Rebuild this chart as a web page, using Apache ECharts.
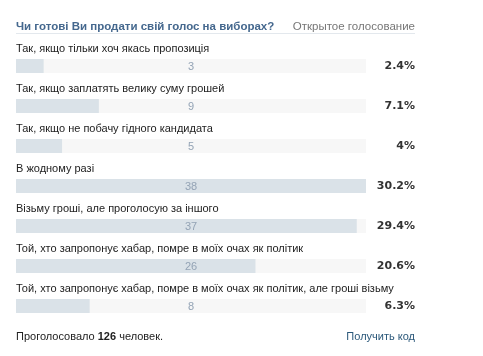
<!DOCTYPE html>
<html>
<head>
<meta charset="utf-8">
<script src="https://cdn.jsdelivr.net/npm/echarts@6/dist/echarts.min.js"></script>
<style>
  html, body { margin: 0; padding: 0; background: #fff; }
  #chart { width: 483px; height: 356px; }
</style>
</head>
<body>
<div id="chart"></div>
<script>
// poll answers, top to bottom
const answers = [
  'Так, якщо тільки хоч якась пропозиція',
  'Так, якщо заплатять велику суму грошей',
  'Так, якщо не побачу гідного кандидата',
  'В жодному разі',
  'Візьму гроші, але проголосую за іншого',
  'Той, хто запропонує хабар, помре в моїх очах як політик',
  'Той, хто запропонує хабар, помре в моїх очах як політик, але гроші візьму'
]
const votes = [3, 9, 5, 38, 37, 26, 8]
const percents = ['2.4%', '7.1%', '4%', '30.2%', '29.4%', '20.6%', '6.3%']
const totalVoters = 126

const font = 'Liberation Sans, Arial, sans-serif'
const maxVotes = Math.max(...votes)

const chart = echarts.init(document.getElementById('chart'))

const option = {
  backgroundColor: '#fff',
  animation: false,
  title: [
    {
      text: 'Чи готові Ви продати свій голос на виборах?',
      left: 11,
      top: 16,
      textStyle: { fontFamily: font, fontSize: 11.5, fontWeight: 'bold', color: '#45688e' }
    },
    {
      text: 'Открытое голосование',
      right: 63,
      top: 16,
      textStyle: { fontFamily: font, fontSize: 11.5, fontWeight: 'normal', color: '#777' }
    },
    {
      text: '{n|Проголосовало }{b|' + totalVoters + '}{n| человек.}',
      left: 11,
      top: 326,
      textStyle: {
        fontWeight: 'normal',
        rich: {
          n: { fontFamily: font, fontSize: 11, fontWeight: 'normal', color: '#222' },
          b: { fontFamily: font, fontSize: 11, fontWeight: 'bold', color: '#222' }
        }
      }
    },
    {
      text: 'Получить код',
      right: 63,
      top: 326,
      textStyle: { fontFamily: font, fontSize: 11, fontWeight: 'normal', color: '#2b587a' }
    }
  ],
  graphic: [
    {
      type: 'line',
      shape: { x1: 16, y1: 33.5, x2: 415, y2: 33.5 },
      style: { stroke: '#e3e8ed', lineWidth: 1 }
    }
  ],
  grid: { left: 16, right: 117, top: 46, bottom: 30 },
  xAxis: {
    type: 'value',
    min: 0,
    max: maxVotes,
    show: false
  },
  yAxis: [
    {
      type: 'category',
      data: answers,
      inverse: true,
      show: false
    },
    {
      type: 'category',
      data: percents,
      inverse: true,
      position: 'right',
      axisLine: { show: false },
      axisTick: { show: false },
      splitLine: { show: false },
      axisLabel: {
        align: 'right',
        margin: 49,
        padding: [8, 0, 0, 0],
        fontFamily: 'DejaVu Sans, sans-serif',
        fontSize: 11,
        fontWeight: 'bold',
        color: '#333'
      }
    }
  ],
  series: [
    {
      name: 'fill',
      type: 'bar',
      yAxisIndex: 0,
      barWidth: 14,
      data: votes,
      itemStyle: { color: '#dae2e8' },
      showBackground: true,
      backgroundStyle: { color: '#f7f7f7' },
      label: {
        show: true,
        position: [0, -16],
        align: 'left',
        verticalAlign: 'top',
        fontFamily: font,
        fontSize: 11,
        color: '#222',
        formatter: p => answers[p.dataIndex]
      }
    },
    {
      name: 'count',
      type: 'bar',
      yAxisIndex: 0,
      barWidth: 14,
      barGap: '-100%',
      data: votes.map(() => maxVotes),
      itemStyle: { color: 'rgba(0,0,0,0)' },
      label: {
        show: true,
        position: 'inside',
        offset: [0, 1],
        fontFamily: font,
        fontSize: 11,
        color: '#93a3b5',
        formatter: p => String(votes[p.dataIndex])
      }
    }
  ]
}

chart.setOption(option)
</script>
</body>
</html>
